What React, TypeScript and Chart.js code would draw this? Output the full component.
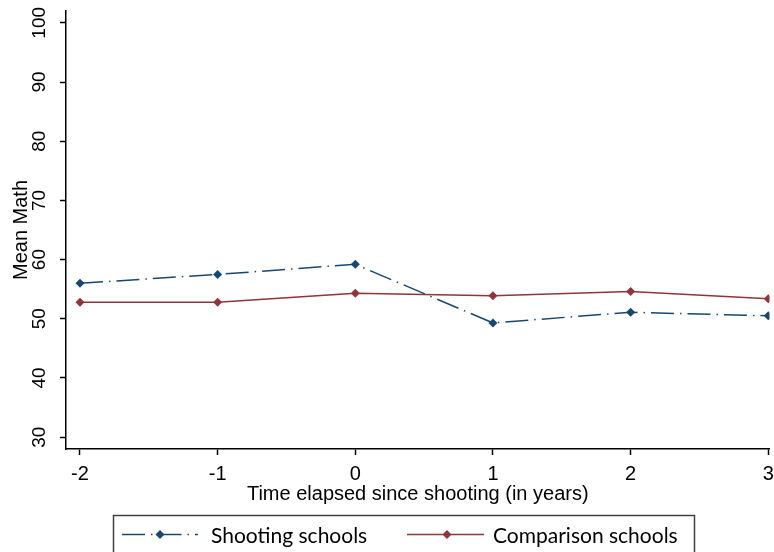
import React, { useEffect, useRef } from "react";
import { Chart, registerables } from "chart.js";

Chart.register(...registerables);

// ---- data ----
const years = [-2, -1, 0, 1, 2, 3];
const shootingSchools = [56.0, 57.5, 59.2, 49.3, 51.1, 50.5];
const comparisonSchools = [52.8, 52.8, 54.3, 53.9, 54.6, 53.4];
const xTicks = [-2, -1, 0, 1, 2, 3];
const yTicks = [30, 40, 50, 60, 70, 80, 90, 100];
const seriesNames = ["Shooting schools", "Comparison schools"];
const xTitle = "Time elapsed since shooting (in years)";
const yTitle = "Mean Math";

const NAVY = "#1a476f";
const MAROON = "#90353b";
const AXIS_FONT = "'Liberation Sans', Arial, sans-serif";
const NARROW_FONT = "'Liberation Sans Narrow', 'Arial Narrow', 'Liberation Sans', Arial, sans-serif";
const LEGEND_FONT = "Lato, 'Open Sans', sans-serif";

const legendPlugin = {
  id: "stataLegend",
  afterDraw(chart: any) {
    const ctx = chart.ctx as CanvasRenderingContext2D;
    ctx.save();
    ctx.strokeStyle = "#404040";
    ctx.lineWidth = 1.5;
    ctx.setLineDash([]);
    ctx.strokeRect(113.5, 515.5, 581, 60);
    const layout = [
      { x0: 122, x1: 198, mx: 160, tx: 211 },
      { x0: 407, x1: 484, mx: 447, tx: 493 },
    ];
    const ly = 534.5;
    chart.data.datasets.forEach((ds: any, i: number) => {
      const l = layout[i];
      ctx.strokeStyle = ds.borderColor;
      ctx.lineWidth = ds.borderWidth;
      ctx.setLineDash(ds.borderDash || []);
      ctx.beginPath();
      ctx.moveTo(l.x0, ly);
      ctx.lineTo(l.x1, ly);
      ctx.stroke();
      ctx.setLineDash([]);
      ctx.fillStyle = ds.borderColor;
      const r = 4.5;
      ctx.beginPath();
      ctx.moveTo(l.mx, ly - r);
      ctx.lineTo(l.mx + r, ly);
      ctx.lineTo(l.mx, ly + r);
      ctx.lineTo(l.mx - r, ly);
      ctx.closePath();
      ctx.fill();
      ctx.fillStyle = "#000";
      ctx.font = `21px ${LEGEND_FONT}`;
      ctx.textBaseline = "middle";
      ctx.textAlign = "left";
      ctx.fillText(ds.label, l.tx, ly + 2);
    });
    ctx.restore();
  },
};

export default function App() {
  const ref = useRef<HTMLCanvasElement | null>(null);

  useEffect(() => {
    if (!ref.current) return;
    const chart = new Chart(ref.current, {
      type: "line",
      data: {
        datasets: [
          {
            label: seriesNames[0],
            data: years.map((x, i) => ({ x, y: shootingSchools[i] })),
            borderColor: NAVY,
            backgroundColor: NAVY,
            borderWidth: 1.5,
            borderDash: [23, 6, 1.5, 6],
            pointStyle: "rectRot",
            pointRadius: 4.5,
            pointBackgroundColor: NAVY,
            pointBorderColor: NAVY,
            pointBorderWidth: 0,
            tension: 0,
          },
          {
            label: seriesNames[1],
            data: years.map((x, i) => ({ x, y: comparisonSchools[i] })),
            borderColor: MAROON,
            backgroundColor: MAROON,
            borderWidth: 1.5,
            pointStyle: "rectRot",
            pointRadius: 4.5,
            pointBackgroundColor: MAROON,
            pointBorderColor: MAROON,
            pointBorderWidth: 0,
            tension: 0,
          },
        ],
      },
      options: {
        animation: false,
        responsive: false,
        events: [],
        layout: { padding: { top: 11, right: 0, bottom: 0, left: 0 } },
        plugins: {
          legend: { display: false },
          tooltip: { enabled: false },
        },
        scales: {
          x: {
            type: "linear",
            min: -2.1017,
            max: 3.009,
            afterBuildTicks: (scale: any) => {
              scale.ticks = xTicks.map((v) => ({ value: v }));
            },
            afterFit: (scale: any) => {
              scale.height = 103;
              scale.paddingLeft = 0;
              scale.paddingRight = 0;
            },
            ticks: {
              color: "#000",
              font: { family: AXIS_FONT, size: 20 },
              padding: 7,
              minRotation: 0,
              maxRotation: 0,
              callback: (v: any) => String(v),
            },
            grid: {
              display: true,
              drawOnChartArea: false,
              drawTicks: true,
              tickLength: 6,
              color: "#000",
              tickColor: "#000",
              tickWidth: 1.5,
            },
            border: { display: true, color: "#000", width: 1.5 },
            title: {
              display: true,
              text: xTitle,
              color: "#000",
              font: { family: AXIS_FONT, size: 20 },
              padding: { top: 0, bottom: 46 },
            },
          },
          y: {
            type: "linear",
            min: 28,
            max: 102,
            afterBuildTicks: (scale: any) => {
              scale.ticks = yTicks.map((v) => ({ value: v }));
            },
            afterFit: (scale: any) => {
              scale.width = 66;
              scale.paddingTop = 0;
              scale.paddingBottom = 0;
            },
            ticks: {
              color: "#000",
              font: { family: NARROW_FONT, size: 19 },
              padding: 4,
              minRotation: 90,
              maxRotation: 90,
              crossAlign: "center",
              callback: (v: any) => String(v),
            },
            grid: {
              display: true,
              drawOnChartArea: false,
              drawTicks: true,
              tickLength: 6,
              color: "#000",
              tickColor: "#000",
              tickWidth: 1.5,
            },
            border: { display: true, color: "#000", width: 1.5 },
            title: {
              display: true,
              text: yTitle,
              color: "#000",
              font: { family: AXIS_FONT, size: 20 },
              padding: { top: 9, bottom: 0 },
            },
          },
        },
      },
      plugins: [legendPlugin],
    } as any);
    return () => chart.destroy();
  }, []);

  return (
    <div style={{ position: "absolute", left: 0, top: 0, width: 774, height: 552, background: "#fff" }}>
      <canvas ref={ref} width={774} height={552} style={{ display: "block" }} />
    </div>
  );
}
